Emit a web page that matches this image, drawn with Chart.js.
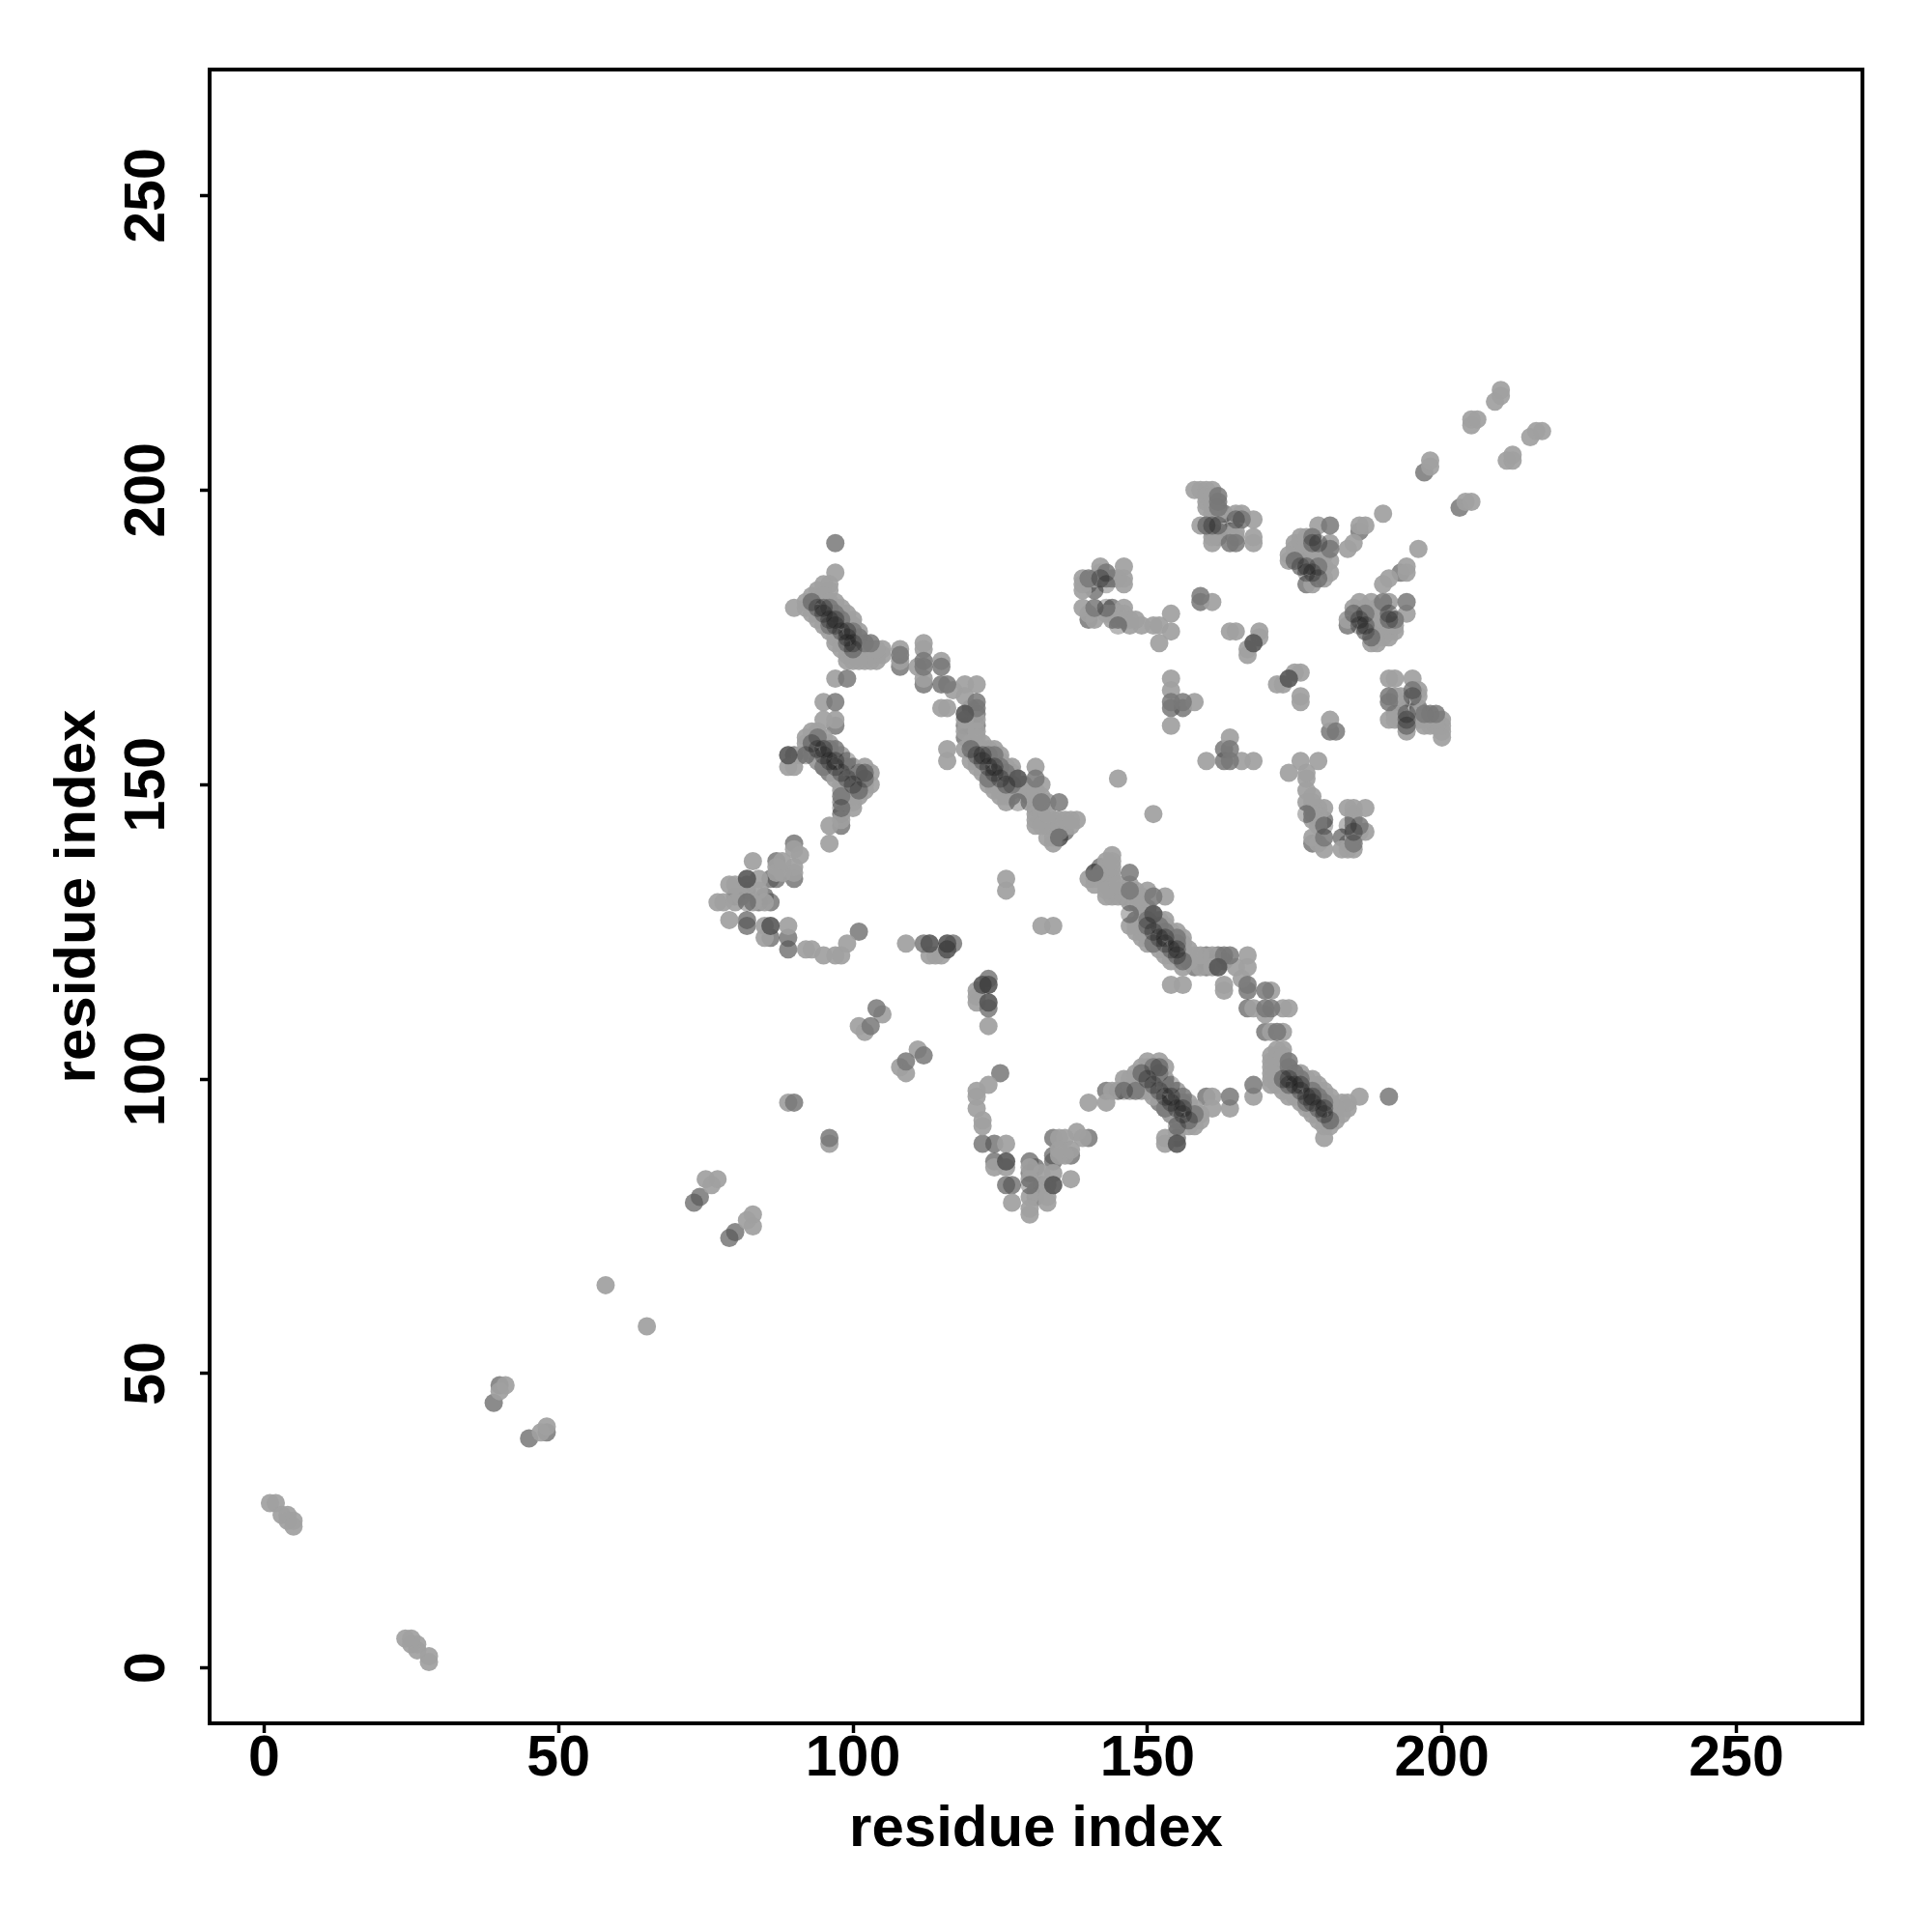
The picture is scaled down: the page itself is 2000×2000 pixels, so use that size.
<!DOCTYPE html>
<html>
<head>
<meta charset="utf-8">
<style>
  body { margin: 0; background: #fff; }
  canvas { display: block; }
</style>
<script src="https://cdn.jsdelivr.net/npm/chart.js"></script>
</head>
<body>
<canvas id="contactMap" width="2000" height="2000"></canvas>
<script>
// residue pairs [i, j], i < j. the map is symmetric so each pair is drawn both ways
const tickValues = [0, 50, 100, 150, 200, 250];
const axisTitle = 'residue index';

// strand cores and other frequent contacts, translucent and drawn last so they stack up dark
const contactsDark = [
  [93,181],[94,180],[95,179],[96,178],[97,177],[98,176],[99,175],[100,174],[95,180],[97,178],[99,176],[99,174],[100,173],
  [93,157],[94,156],[95,155],[96,154],[97,153],[98,152],[99,151],[100,150],[101,149],[95,156],[97,154],[89,155],[92,155],[99,154],[102,152],[98,146],
  [120,156],[121,155],[122,154],[123,153],[124,152],[125,151],[126,150],[122,155],[124,153],[119,162],[128,151],[128,147],[135,141],
  [82,130],[86,126],[82,134],[113,123],[116,123],[116,122],
  [175,188],[177,187],[178,186],[179,185],[177,186],[179,191],[178,191],
  [161,194],[160,194],[162,194],[165,195],
  [142,185],[143,180],[145,177],[143,184],[168,174]
];

// medium contacts, under the light ones
const contactsMid = [
  [39,45],[40,48],[73,79],[74,80],[108,170],[112,167],[115,167],[121,160],[119,160],[119,158],[135,141],
  [87,137],[90,140],[87,134],[86,130],[82,127],[82,126],[86,124],[89,124],[89,122],[101,125],[90,134],[86,134],
  [90,155],[97,160],[98,143],[98,145],[159,181],[154,163],[156,163],[186,193],[197,203],
  [140,178],[144,180],[177,184],[176,189],[163,196],[162,192],
  [84,130],[82,132],[85,131],[80,131],[120,160],[120,163],[121,162],[102,150],[99,150],[96,152],[94,154],[131,146],[133,143],[136,142],[140,184],[141,183],[178,188],[180,189],[164,193],[161,193]
];

// lightest and most common contacts
const contactsLight = [
  [1,28],[2,28],[3,26],[4,26],[4,25],[5,25],[5,24],[40,47],[41,48],[58,65],[75,83],[76,82],[77,83],[89,96],
  [101,109],[102,108],[105,111],[109,123],[113,121],[115,121],[114,121],[126,132],[126,134],[145,151],
  [77,130],[78,130],[79,133],[83,137],[91,138],[90,136],[90,135],[87,135],[87,136],[84,132],[83,130],[79,127],[89,126],[85,126],[85,124],[92,122],[93,122],[95,121],[97,121],[99,123],[98,121],[82,133],[81,131],[90,139],[84,134],
  [88,135],[88,137],[85,130],[80,130],[80,133],
  [97,186],[90,180],[92,181],[92,180],[93,182],[94,183],[95,184],[96,183],[96,184],[97,181],[98,180],[99,179],[100,178],[100,177],[93,179],[94,178],[97,175],[98,174],[99,172],[102,171],[104,171],[105,173],[103,172],[102,173],[101,172],[104,172],[103,173],[100,172],[99,171],
  [95,182],[96,181],[97,180],[98,179],[99,178],[100,176],[101,176],[94,179],[95,177],[96,176],[97,174],[98,173],[100,171],[101,173],[102,172],[103,171],[105,172],[104,173],[101,171],
  [108,173],[108,171],[111,170],[112,174],[112,173],[112,168],[115,171],
  [119,167],[121,167],[115,163],[116,163],[119,165],[121,161],[119,156],[116,156],[116,154],[120,157],[117,166],
  [122,156],[125,154],[127,153],[131,153],[129,149],[130,149],[132,148],[126,147],[131,143],[132,144],[131,144],[135,144],[134,140],[134,143],[136,143],[138,144],[137,143],[126,149],[127,150],[124,149],[123,150],[125,148],[122,152],[121,153],
  [121,158],[122,157],[123,156],[124,156],[125,155],[126,153],[127,152],[127,151],[128,150],[129,150],[120,154],[121,154],[123,151],[124,150],[125,149],[126,148],[127,148],[127,149],[119,159],[119,161],[121,159],
  [131,145],[132,145],[133,141],[134,141],[134,144],[135,142],[136,144],[137,144],[132,143],[130,147],[130,148],[131,148],[131,149],[132,150],[133,147],[133,145],
  [97,168],[95,164],[95,161],[97,161],[93,159],[94,158],[92,158],[92,157],[96,157],[89,153],[90,153],[91,155],[103,150],[102,151],[100,147],[100,146],[98,144],[96,143],[96,140],[98,149],[102,149],[101,148],[100,148],[98,147],
  [94,159],[95,158],[96,156],[97,155],[98,155],[99,153],[100,153],[101,152],[102,153],[93,155],[94,154],[95,153],[97,151],[98,150],[99,149],[101,151],[103,152],[101,150],
  [179,194],[176,192],[175,191],[174,188],[181,191],[181,188],[180,187],[178,184],[180,185],[177,189],
  [175,190],[176,191],[177,191],[177,192],[178,190],[179,188],[179,189],[180,190],[178,187],[181,186],[174,189],
  [158,200],[159,200],[160,200],[161,200],[160,197],[159,194],[161,191],[165,196],[168,195],[168,192],[168,191],
  [160,198],[161,198],[160,199],[161,199],[161,196],[161,197],[162,196],[162,193],[166,196],[165,192],[165,193],[161,192],[160,194],
  [142,187],[146,187],[146,185],[144,185],[145,185],[139,185],[139,184],[139,183],[141,185],[139,180],[140,179],[146,180],[147,177],[149,177],[151,177],[152,177],[152,174],[154,179],[154,176],[144,178],[141,178],
  [143,179],[144,179],[145,179],[146,179],[146,178],[147,178],[148,178],[145,178],[142,186],[143,185],[146,184],
  [161,181],[164,176],[165,176],[167,172],[167,173],[169,175],[169,176],[154,168],[154,166],[158,164],[154,160],
  [184,190],[185,191],[186,194],[187,194],[190,196],[198,204],[198,205],[205,211],[205,212],[206,212],[209,215],[210,216],[210,217]
];

// medium contacts that sit on top of the light ones
const contactsTop = [
  [90,96],[103,109],[104,112],[112,123],[117,123],[97,191],[98,178],[97,179],[101,175],[102,174],[103,174],
  [108,172],[112,171],[112,170],[115,170],[116,167],[121,164],[121,163],[124,155],[131,151],[132,147],[135,147],
  [99,168],[97,164],[97,156],[181,194],[181,190],[162,199],[162,198],[162,197],[166,195],[164,191],[165,191],
  [140,185],[141,180],[159,182],[154,164],[156,164],[98,148],[102,151],[125,153],[143,186],[178,192],
  [89,155],[113,123],[116,123],[116,122],[128,151],[86,126],[119,162],[82,134],[168,174],
  [96,180],[100,176],[94,158],[96,156],[101,152],[123,155],[126,152],[127,150],[96,177],[95,153],[123,151],[176,187],[179,187]
];

// pair list -> points on both sides of the diagonal
const bothWays = pairs => pairs.flatMap(([i, j]) => [{ x: i, y: j }, { x: j, y: i }]);

const layer = (label, pairs, color, order) => ({
  label,
  data: bothWays(pairs),
  order,
  pointRadius: 9.5,
  pointHoverRadius: 9.5,
  pointBorderWidth: 0,
  pointBackgroundColor: color
});

const tickFont = { family: 'Liberation Sans', size: 59, weight: 'bold', lineHeight: 0.8 };
const titleFont = { family: 'Liberation Sans', size: 60, weight: 'bold', lineHeight: 1.2 };

const boxPlugin = {
  id: 'box',
  afterDraw(chart) {
    const { ctx, chartArea: a } = chart;
    ctx.save();
    ctx.strokeStyle = '#000';
    ctx.lineWidth = 4;
    ctx.strokeRect(a.left, a.top, a.right - a.left, a.bottom - a.top);
    ctx.restore();
  }
};

const axisGrid = { drawOnChartArea: false, drawTicks: true, tickLength: 10, tickColor: '#000', tickWidth: 3.5 };

new Chart(document.getElementById('contactMap'), {
  type: 'scatter',
  data: {
    datasets: [
      layer('dark', contactsDark, 'rgba(20,20,20,0.3)', 1),
      layer('top', contactsTop, 'rgba(120,120,120,0.85)', 2),
      layer('light', contactsLight, 'rgba(160,160,160,0.93)', 3),
      layer('mid', contactsMid, 'rgba(90,90,90,0.7)', 4)
    ]
  },
  options: {
    responsive: false,
    animation: false,
    devicePixelRatio: 1,
    layout: { padding: { top: 72, right: 72, left: 0, bottom: 0 } },
    plugins: { legend: { display: false }, tooltip: { enabled: false } },
    scales: {
      x: {
        type: 'linear',
        min: -9.24,
        max: 271.4,
        afterBuildTicks: s => { s.ticks = tickValues.map(v => ({ value: v })); },
        afterFit: s => { s.height = 216; },
        grid: axisGrid,
        border: { display: false },
        ticks: { color: '#000', font: tickFont, padding: 4, autoSkip: false, maxRotation: 0, minRotation: 0 },
        title: { display: true, text: axisTitle, color: '#000', font: titleFont, padding: { top: 0, bottom: 70 } }
      },
      y: {
        type: 'linear',
        min: -9.4,
        max: 271.4,
        afterBuildTicks: s => { s.ticks = tickValues.map(v => ({ value: v })); },
        afterFit: s => { s.width = 217; },
        grid: axisGrid,
        border: { display: false },
        ticks: { color: '#000', font: tickFont, padding: 4, autoSkip: false, minRotation: 90, maxRotation: 90, crossAlign: 'center' },
        title: { display: true, text: axisTitle, color: '#000', font: titleFont, padding: { top: 45, bottom: 0 } }
      }
    }
  },
  plugins: [boxPlugin]
});
</script>
</body>
</html>
